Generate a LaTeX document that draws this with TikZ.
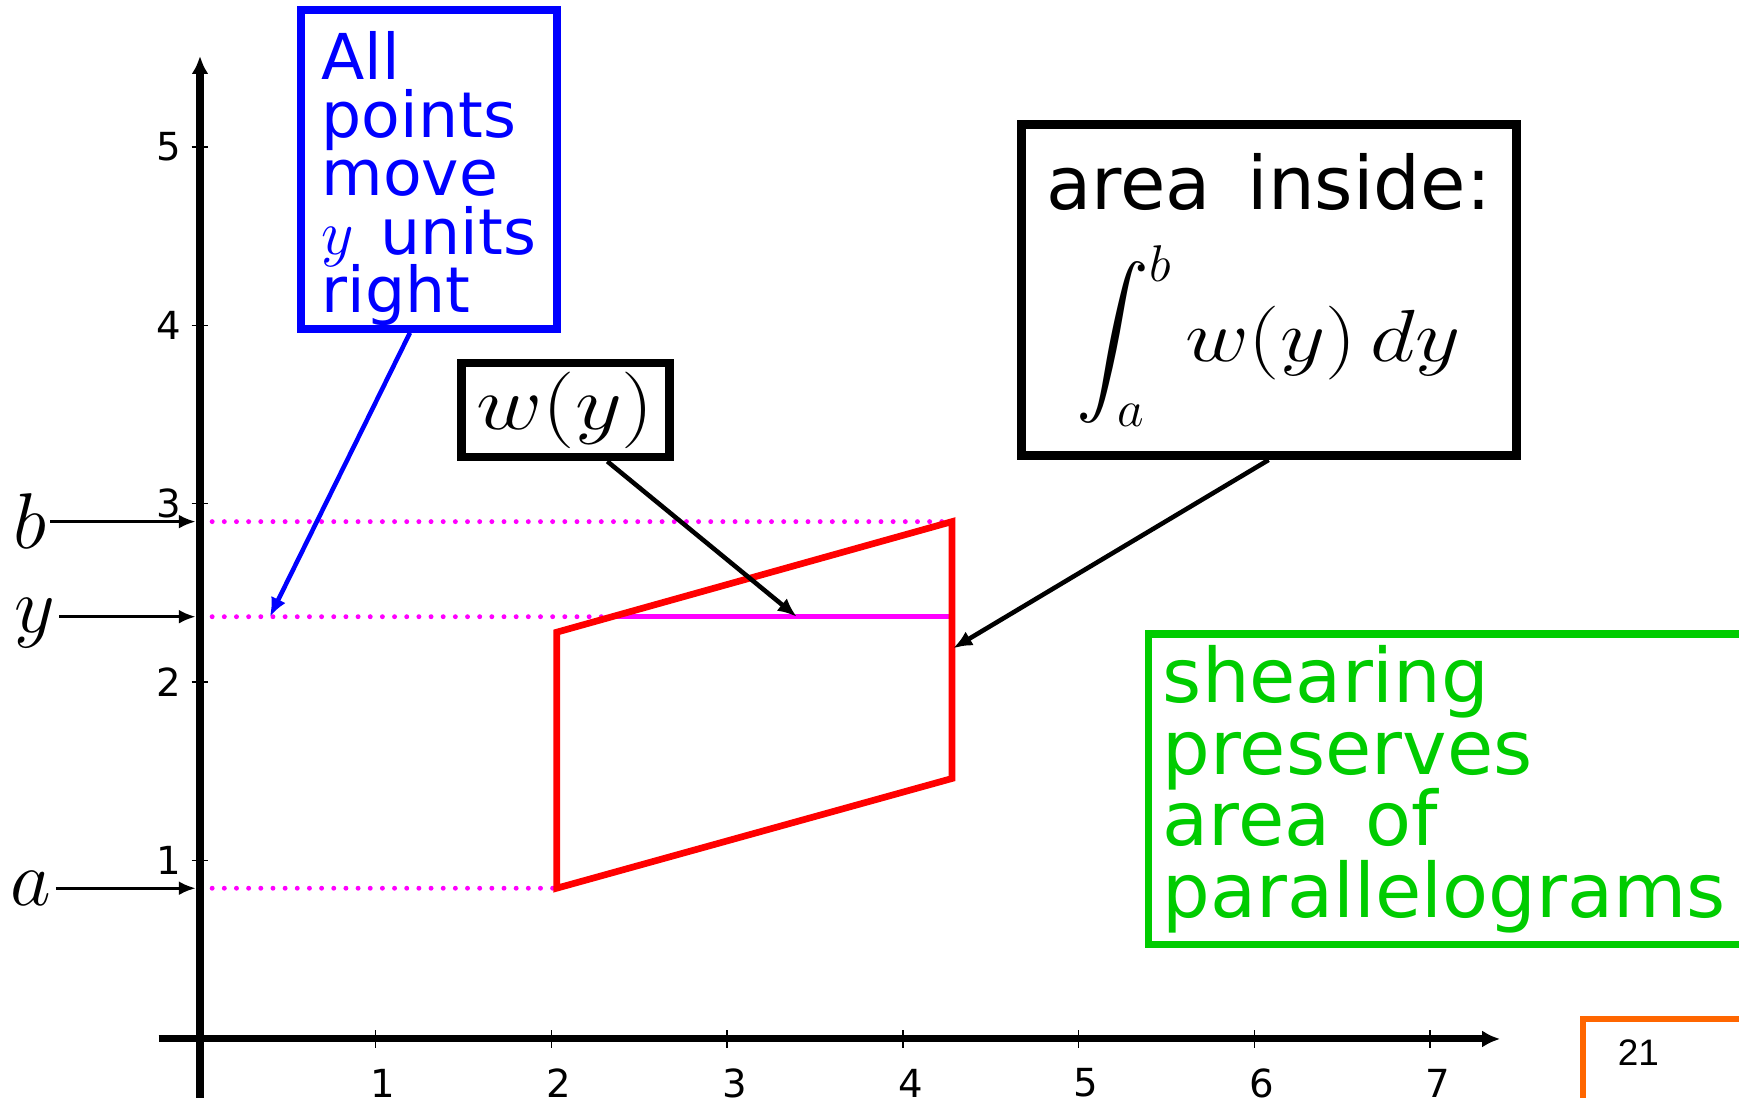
\documentclass[tikz,border=0pt]{standalone}
\usepackage{fix-cm}
\usepackage{exscale}
\usepackage{graphicx}
\usepackage{fontspec}
\setsansfont{DejaVu Sans}
\newfontfamily\pagefont{Liberation Sans}
\usetikzlibrary{arrows.meta}
\definecolor{mag}{RGB}{255,0,255}
\definecolor{grn}{RGB}{0,204,0}
\definecolor{orng}{RGB}{255,102,0}
\newcommand\tightlines{\lineskiplimit=-20pt\lineskip=0pt}
\begin{document}
\begin{tikzpicture}[x=1.757cm, y=1.784cm,
  axisline/.style={line width=2pt,-{Latex[length=1.8mm,width=1.7mm]}},
  tickmark/.style={line width=0.4pt},
  ticklbl/.style={inner sep=0pt,font=\sffamily\fontsize{11}{13}\selectfont},
  guide/.style={draw=mag,line width=1.4pt,line cap=round,dash pattern=on 0pt off 3.46pt},
  para/.style={draw=red,line width=1.9pt},
  pointer/.style={line width=1.3pt,-{Latex[length=1.9mm,width=1.6mm]}},
  lblarrow/.style={line width=0.9pt,shorten >=1.2pt,-{Latex[length=1.7mm,width=1.4mm]}},
  lbl/.style={inner sep=1pt,font=\fontsize{22.5}{27}\selectfont},
  blackbox/.style={draw,line width=2.5pt,align=center},
  bluebox/.style={draw=blue,line width=2.2pt,text=blue,align=left,inner ysep=0pt,minimum width=2.56cm,minimum height=3.19cm,
    font={\sffamily\fontsize{18}{16.6}\selectfont\tightlines}},
  greenbox/.style={draw=grn,line width=2.1pt,text=grn,align=left,text width=5.9cm,inner xsep=4pt,minimum height=3.1cm,
    font={\sffamily\fontsize{21.4}{20.3}\selectfont\tightlines}},
  pagebox/.style={draw=orng,line width=1.7pt,align=left,text width=1.5cm,inner xsep=3.45mm,inner ysep=2.06mm,text depth=1cm,
    font=\pagefont\fontsize{10.5}{12}\selectfont}]
\useasboundingbox (-1.1383,-0.3307) rectangle (8.7593,5.8240);
\coordinate (q1) at (2.03,0.845);
\coordinate (q2) at (4.28,1.46);
\coordinate (q3) at (4.28,2.90);
\coordinate (q4) at (2.03,2.28);
\coordinate (pa) at (0,0.845);
\coordinate (pb) at (0,2.90);
\coordinate (py) at (0,2.367);
\coordinate (ycut) at (2.346,2.367);
\coordinate (yend) at (4.28,2.367);
\draw[guide] (pb) -- (q3);
\draw[guide] (py) -- (ycut);
\draw[guide] (pa) -- (q1);
\draw[mag,line width=1.4pt] (ycut) -- (yend);
\draw[para] (q1) -- (q2) -- (q3) -- (q4) -- cycle;
\draw[axisline] (-0.236,0) -- (7.40,0);
\draw[axisline] (0,-0.35) -- (0,5.51);
\foreach \k in {1,...,7} {
  \draw[tickmark] (\k,-0.048) -- (\k,0.048);
  \node[ticklbl] (xl\k) at (\k+0.043,-0.247) {\k};
}
\foreach \k in {1,...,5} {
  \draw[tickmark] (-0.048,\k) -- (0.048,\k);
  \node[ticklbl] (yl\k) at (-0.178,\k) {\k};
}
\node[lbl] (lb) at (-0.97,2.905) {$b$};
\node[lbl] (ly) at (-0.94,2.33) {$y$};
\node[lbl] (la) at (-0.96,0.841) {$a$};
\draw[lblarrow] (lb.east |- pb) -- (pb);
\draw[lblarrow] (ly.east |- py) -- (py);
\draw[lblarrow] (la.east |- pa) -- (pa);
\node[bluebox] (note) at (1.303,4.874) {\rule{0pt}{18.7pt}All\\points\\move\\$y$\hspace{0.42em}units\\right};
\node[blackbox,inner xsep=2pt,inner ysep=0pt,minimum width=2.08cm,minimum height=0.94cm,font=\fontsize{21.8}{26}\selectfont] (wy) at (2.079,3.526) {\scalebox{1.19}[1]{$w(y)$}};
\node[blackbox,minimum width=4.95cm,minimum height=3.31cm,font=\sffamily\fontsize{21}{25}\selectfont] (area) at (6.082,4.198)
  {area\hspace{0.5em}inside:\\[9pt]$\displaystyle\int_a^b$\,\scalebox{1.19}[1]{$w(y)\,dy$}};
\node[greenbox,anchor=north west] (shear) at (5.379,2.29) {shearing\\preserves\\area\hspace{0.47em}of\\parallelograms};
\node[pagebox,anchor=north west] (page) at (7.857,0.129) {21};
\coordinate (btip) at (0.398,2.367);
\coordinate (wtip) at (3.396,2.367);
\coordinate (atip) at (4.287,2.190);
\draw[pointer,blue] ([xshift=-1.9mm]note.south) -- (btip);
\draw[pointer] ([xshift=4.2mm]wy.south) -- (wtip);
\draw[pointer] (area.south) -- (atip);
\end{tikzpicture}
\end{document}
